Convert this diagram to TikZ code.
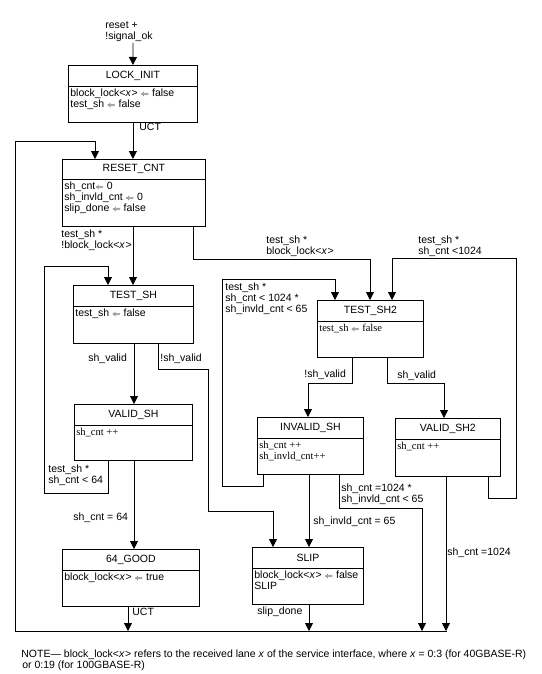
\documentclass[tikz,border=0pt]{standalone}
\usepackage{fontspec}
\setmainfont{Liberation Sans}
\newfontfamily\serifbody{Liberation Serif}
\usetikzlibrary{shapes.multipart,arrows.meta}

\tikzset{
  state/.style={draw, rectangle split, rectangle split parts=2,
    anchor=north west, inner xsep=2pt, inner ysep=0pt},
  lbl/.style={anchor=north west, inner sep=0pt, align=left},
}
\newcommand{\sthead}[3]{\parbox[c][#2][c]{#1}{\centering #3}}
\newcommand{\stbody}[3]{\parbox[t][#2][t]{#1}{\raggedright\rule{0pt}{10pt}#3}}
\newcommand{\lockx}{block\_lock<\textit{x}\kern0.5pt>}
\newcommand{\getsfrom}{\mbox{\fontsize{8.5}{8.5}\selectfont$\Leftarrow$}}

\begin{document}
\begin{tikzpicture}[x=1pt, y=-1pt, line width=0.8pt,
    >={Triangle[length=8pt,width=8pt]},
    font=\fontsize{10.5}{11}\selectfont]
  \useasboundingbox (0,0) rectangle (541,674);

  % states
  \node[state] (lockinit) at (68,65) {\sthead{125pt}{20pt}{LOCK\_INIT}\nodepart{two}%
    \stbody{125pt}{35pt}{\lockx{} \getsfrom{} false\\test\_sh \getsfrom{} false}};
  \node[state] (resetcnt) at (62,159) {\sthead{139pt}{19pt}{RESET\_CNT}\nodepart{two}%
    \stbody{139pt}{46pt}{sh\_cnt\getsfrom{} 0\\sh\_invld\_cnt \getsfrom{} 0\\slip\_done \getsfrom{} false}};
  \node[state] (testsh) at (73,285) {\sthead{116pt}{20pt}{TEST\_SH}\nodepart{two}%
    \stbody{116pt}{36pt}{test\_sh \getsfrom{} false}};
  \node[state] (validsh) at (74,404) {\sthead{114pt}{20pt}{VALID\_SH}\nodepart{two}%
    \stbody{114pt}{34pt}{\serifbody sh\_cnt ++}};
  \node[state] (good) at (62,549) {\sthead{133pt}{20pt}{64\_GOOD}\nodepart{two}%
    \stbody{133pt}{35pt}{\lockx{} \getsfrom{} true}};
  \node[state] (slip) at (252,547) {\sthead{107pt}{20pt}{SLIP}\nodepart{two}%
    \stbody{107pt}{35pt}{\lockx{} \getsfrom{} false\\SLIP}};
  \node[state] (testshtwo) at (317,300) {\sthead{102pt}{20pt}{TEST\_SH2}\nodepart{two}%
    \stbody{102pt}{35pt}{\serifbody test\_sh \getsfrom{} false}};
  \node[state] (invalidsh) at (257,417) {\sthead{102pt}{20pt}{INVALID\_SH}\nodepart{two}%
    \stbody{102pt}{35pt}{\serifbody sh\_cnt ++\\sh\_invld\_cnt++}};
  \node[state] (validshtwo) at (395,418) {\sthead{101pt}{20pt}{VALID\_SH2}\nodepart{two}%
    \stbody{101pt}{36pt}{\serifbody sh\_cnt ++}};

  % return bus
  \coordinate (start) at (133,43);
  \coordinate (busw) at (15,631);
  \coordinate (buse) at (447,631);
  \draw (busw) -- (buse);

  % transitions
  \draw[->] (start) -- (lockinit.north);
  \draw[->] (lockinit.south) -- (lockinit.south |- resetcnt.north);
  \draw[->] (busw) |- (95,141) -- (95,0 |- resetcnt.north);
  \draw[->] (133,0 |- resetcnt.south) -- (133,0 |- testsh.north);
  \draw[->] (193,0 |- resetcnt.south) |- (370,259) -- (370,0 |- testshtwo.north);
  \draw[->] (108,0 |- validsh.south) |- (44,493) |- (108,266) -- (108,0 |- testsh.north);
  \draw[->] (134,0 |- testsh.south) -- (134,0 |- validsh.north);
  \draw[->] (158,0 |- testsh.south) |- (208,369) |- (273,511) -- (273,0 |- slip.north);
  \draw[->] (134,0 |- validsh.south) -- (134,0 |- good.north);
  \draw[->] (128,0 |- good.south) -- (128,0 |- busw);
  \draw[->] (309,0 |- slip.south) -- (309,0 |- busw);
  \draw[->] (352,0 |- testshtwo.south) |- (308,383) -- (308,0 |- invalidsh.north);
  \draw[->] (387,0 |- testshtwo.south) |- (444,383) -- (444,0 |- validshtwo.north);
  \draw[->] (263,0 |- invalidsh.south) |- (222,486) |- (335,279) -- (335,0 |- testshtwo.north);
  \draw[->] (488,0 |- validshtwo.south) |- (516,498) |- (392,258) -- (392,0 |- testshtwo.north);
  \draw[->] (309,0 |- invalidsh.south) -- (309,0 |- slip.north);
  \draw[->] (339,0 |- invalidsh.south) |- (422,508) -- (422,0 |- busw);
  \draw[->] (446,0 |- validshtwo.south) -- (446,0 |- busw);

  % labels
  \node[lbl] (lblreset) at (105,21) {reset +\\!signal\_ok};
  \node[lbl] (lbluctone) at (139,123) {UCT};
  \node[lbl] (lblnolock) at (61,229) {test\_sh *\\!\lockx};
  \node[lbl] (lbllock) at (266,235) {test\_sh *\\\lockx};
  \node[lbl] (lblcntlow) at (418,235) {test\_sh *\\sh\_cnt <1024};
  \node[lbl] (lblretry) at (225,282) {test\_sh *\\sh\_cnt < 1024 *\\sh\_invld\_cnt < 65};
  \node[lbl] (lblvalid) at (88,353) {sh\_valid};
  \node[lbl] (lblinvalid) at (160,353) {!sh\_valid};
  \node[lbl] (lblcntsix) at (48,464) {test\_sh *\\sh\_cnt < 64};
  \node[lbl] (lblinvalidtwo) at (304,369) {!sh\_valid};
  \node[lbl] (lblvalidtwo) at (397,370) {sh\_valid};
  \node[lbl] (lblcntmax) at (341,483) {sh\_cnt =1024 *\\sh\_invld\_cnt < 65};
  \node[lbl] (lblinvldmax) at (313,516) {sh\_invld\_cnt = 65};
  \node[lbl] (lblgood) at (73,512) {sh\_cnt = 64};
  \node[lbl] (lblcntend) at (447,547) {sh\_cnt =1024};
  \node[lbl] (lblucttwo) at (132,608) {UCT};
  \node[lbl] (lblslipdone) at (257,606) {slip\_done};
  \node[lbl] (note) at (21,649) {NOTE--- \lockx{} refers to the received lane \textit{x} of the service interface, where \textit{x} = 0:3 (for 40GBASE-R)\\\hspace{1pt}or 0:19 (for 100GBASE-R)};
\end{tikzpicture}
\end{document}
